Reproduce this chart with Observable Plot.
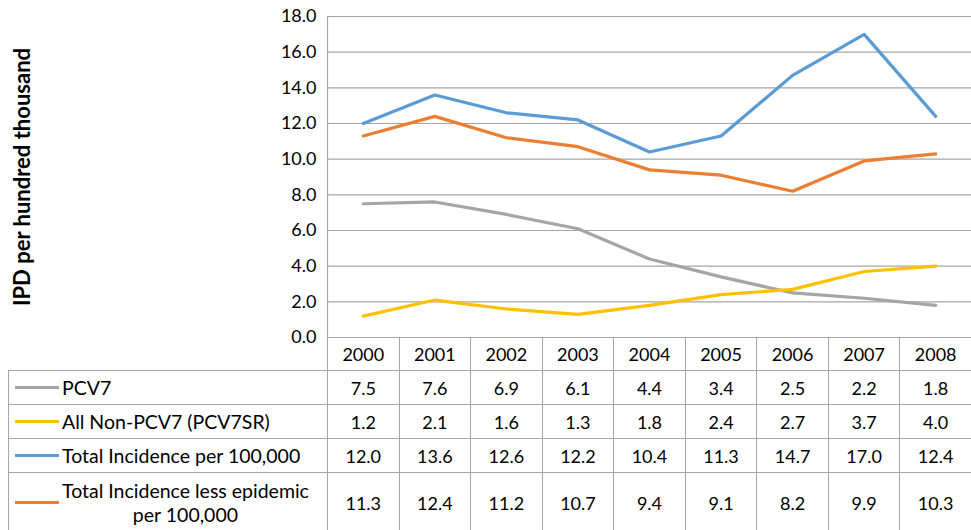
<!DOCTYPE html>
<html>
<head>
<meta charset="utf-8">
<script src="https://cdn.jsdelivr.net/npm/d3@7"></script>
<script src="https://cdn.jsdelivr.net/npm/@observablehq/plot@0.6"></script>
<style>
  html, body { margin: 0; padding: 0; background: #fff; }
  #wrap { position: relative; width: 971px; height: 530px; overflow: hidden; font-family: Lato, "Open Sans", sans-serif; color: #000; }
  table { position: absolute; left: 8px; top: 337px; border-collapse: collapse; table-layout: fixed; width: 963px; font-size: 18px; }
  td { border: 1px solid #a6a6a6; text-align: center; padding: 0; }
  td.blank { border-top: none; border-left: none; }
  td.lab { text-align: left; }
  .labin { display: flex; align-items: center; }
  .key { display: inline-block; width: 44px; height: 3px; margin-left: 6px; margin-right: 3px; flex: none; }
  .txt { display: inline-block; text-align: center; line-height: 24px; font-size: 19.5px; }
</style>
</head>
<body>
<div id="wrap"></div>
<script>
const years = [2000, 2001, 2002, 2003, 2004, 2005, 2006, 2007, 2008];
const pcv7 = [7.5, 7.6, 6.9, 6.1, 4.4, 3.4, 2.5, 2.2, 1.8];
const nonPcv7 = [1.2, 2.1, 1.6, 1.3, 1.8, 2.4, 2.7, 3.7, 4.0];
const totalIncidence = [12.0, 13.6, 12.6, 12.2, 10.4, 11.3, 14.7, 17.0, 12.4];
const totalLessEpidemic = [11.3, 12.4, 11.2, 10.7, 9.4, 9.1, 8.2, 9.9, 10.3];
const seriesNames = ["PCV7", "All Non-PCV7 (PCV7SR)", "Total Incidence per 100,000", "Total Incidence less epidemic per 100,000"];
const seriesLabels = ["PCV7", "All Non-PCV7 (PCV7SR)", "Total Incidence per 100,000", "Total Incidence less epidemic<br>per 100,000"];
const seriesColors = ["#a5a5a5", "#ffc000", "#5b9bd5", "#ed7d31"];
const yTicks = [0, 2, 4, 6, 8, 10, 12, 14, 16, 18];
const yLabel = "IPD per hundred thousand";

const seriesValues = [pcv7, nonPcv7, totalIncidence, totalLessEpidemic];
const rows = [];
seriesNames.forEach((name, s) => years.forEach((yr, i) => rows.push({ name, year: yr, value: seriesValues[s][i] })));

const chart = Plot.plot({
  width: 971,
  height: 337,
  marginTop: 16,
  marginBottom: 0,
  marginLeft: 327,
  marginRight: 0,
  style: { fontFamily: "Lato, 'Open Sans', sans-serif", fontSize: "18px", color: "#000", background: "#fff", overflow: "visible" },
  x: { type: "linear", domain: [years[0] - 0.5, years[years.length - 1] + 0.5], axis: null },
  y: { domain: [0, 18], axis: null },
  color: { domain: seriesNames, range: seriesColors },
  marks: [
    Plot.ruleY(yTicks, { stroke: "#a6a6a6", strokeWidth: 1.2 }),
    Plot.ruleX([years[0] - 0.5], { stroke: "#a6a6a6", strokeWidth: 1.2 }),
    Plot.axisY(yTicks, { tickSize: 0, tickPadding: 11, tickFormat: d => d.toFixed(1), fontSize: 18, label: null }),
    Plot.line(rows, { x: "year", y: "value", z: "name", stroke: "name", strokeWidth: 3.2, strokeLinejoin: "round", strokeLinecap: "round" }),
    Plot.text([yLabel], { text: d => d, frameAnchor: "left", textAnchor: "middle", dx: -305, rotate: -90, fontWeight: "bold", fontSize: 22 })
  ]
});
const wrap = document.getElementById("wrap");
wrap.appendChild(chart);

// data table
const table = document.createElement("table");
const cg = document.createElement("colgroup");
const c0 = document.createElement("col"); c0.style.width = "319px"; cg.appendChild(c0);
years.forEach(() => { const c = document.createElement("col"); c.style.width = (644 / 9) + "px"; cg.appendChild(c); });
table.appendChild(cg);
const hr = document.createElement("tr");
hr.style.height = "33px";
hr.innerHTML = `<td class="blank"></td>` + years.map(y => `<td>${y}</td>`).join("");
table.appendChild(hr);
const heights = [34, 34, 34, 60];
seriesNames.forEach((name, s) => {
  const tr = document.createElement("tr");
  tr.style.height = heights[s] + "px";
  tr.innerHTML = `<td class="lab"><div class="labin"><span class="key" style="background:${seriesColors[s]}"></span><span class="txt">${seriesLabels[s]}</span></div></td>` +
    seriesValues[s].map(v => `<td>${v.toFixed(1)}</td>`).join("");
  table.appendChild(tr);
});
wrap.appendChild(table);
</script>
</body>
</html>
